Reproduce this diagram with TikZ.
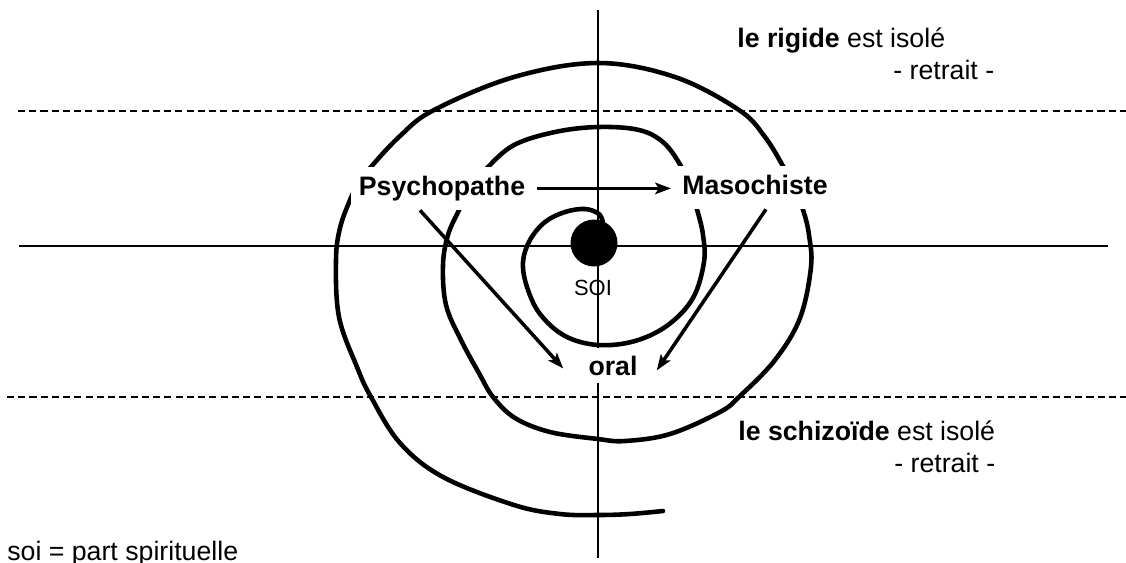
\documentclass[tikz,border=0pt]{standalone}
\usepackage{fontspec}
\setmainfont{Liberation Sans}
\usetikzlibrary{arrows.meta}

\begin{document}
\begin{tikzpicture}[x=0.02cm, y=-0.02cm,
    axisline/.style={line width=1.3pt},
    limitline/.style={line width=1.3pt, dash pattern=on 4pt off 2.4pt},
    spiralline/.style={line width=2.6pt, line cap=round},
    typetext/.style={font=\fontsize{15.2}{18}\selectfont\bfseries},
    typebox/.style={typetext, fill=white, inner xsep=4.5pt, inner ysep=5pt, text height=11pt, text depth=3.5pt, anchor=base},
    notetext/.style={font=\fontsize{15.2}{18}\selectfont, inner sep=0pt, anchor=base west},
    arr/.style={line width=2pt, -{Stealth[length=9pt, width=6.5pt, inset=2pt]}}]

    \useasboundingbox (0,0) rectangle (1126,562);

    % Axes
    \coordinate (top) at (598,10);
    \coordinate (bottom) at (598,558);
    \coordinate (left) at (19,246);
    \coordinate (right) at (1108,246);
    \draw[axisline] (top) -- (bottom);
    \draw[axisline] (left) -- (right);

    % Limits
    \coordinate (rigidL) at (18,111);
    \coordinate (rigidR) at (1126,111);
    \coordinate (schizoL) at (7,397);
    \coordinate (schizoR) at (1126,397);
    \draw[limitline] (rigidL) -- (rigidR);
    \draw[limitline] (schizoL) -- (schizoR);

    % Spiral
    \draw[spiralline] plot[smooth, tension=0.6] coordinates {
        (603,223) (599,214) (585,209) (565,212) (545,222) (530,240) (523,262)
        (527,287) (540,314) (565,336) (598,345) (635,341) (668,325) (693,298)
        (704,262) (703,235) (698,213) (691,190) (682,168) (664,143) (639,130)
        (598,127) (555,132) (514,145) (487,168) (470,188) (459,210) (448,235)
        (443,265) (446,305) (461,340) (480,375) (493,397) (515,418) (550,432)
        (598,439) (625,441) (670,434) (720,412) (740,396) (775,360) (800,318)
        (811,267) (809,235) (804,213) (795,190) (784,168) (765,137) (739,110)
        (675,77) (598,63) (514,77) (434,110) (400,136) (370,168) (358,184)
        (350,200) (340,228) (336,260) (339,317) (357,367) (371,397) (400,443)
        (443,477) (514,505) (560,514) (598,515) (630,514) (663,511)};

    % Self
    \node[circle, fill=black, minimum size=0.94cm, inner sep=0pt] (self) at (594,243) {};
    \node[notetext, anchor=base, font=\fontsize{12.5}{15}\selectfont] (soi) at (593,295) {SOI};

    % Types
    \node[typebox] (psycho) at (442,195) {Psychopathe};
    \node[typebox] (maso) at (755,194) {Masochiste};
    \node[typetext, fill=white, inner sep=4.5pt, anchor=base] (oral) at (613,375) {oral};

    % Arrows
    \draw[arr, shorten <=0.08cm, shorten >=0.06cm] (psycho.east) -- (psycho.east -| maso.west);
    \draw[arr] ([xshift=-0.44cm]psycho.south) -- ([xshift=-0.34cm, yshift=-0.06cm]oral.west);
    \draw[arr] ([xshift=0.22cm]maso.south) -- ([xshift=0.22cm, yshift=-0.1cm]oral.east);

    % Notes
    \node[notetext] (rigid) at (737,47) {{\bfseries le rigide} est isolé};
    \node[notetext] (rigidret) at (893,79) {- retrait -};
    \node[notetext] (schizo) at (738,440) {{\bfseries le schizoïde} est isolé};
    \node[notetext] (schizoret) at (894,472) {- retrait -};
    \node[notetext] (legend) at (7,560) {soi = part spirituelle};

\end{tikzpicture}
\end{document}
